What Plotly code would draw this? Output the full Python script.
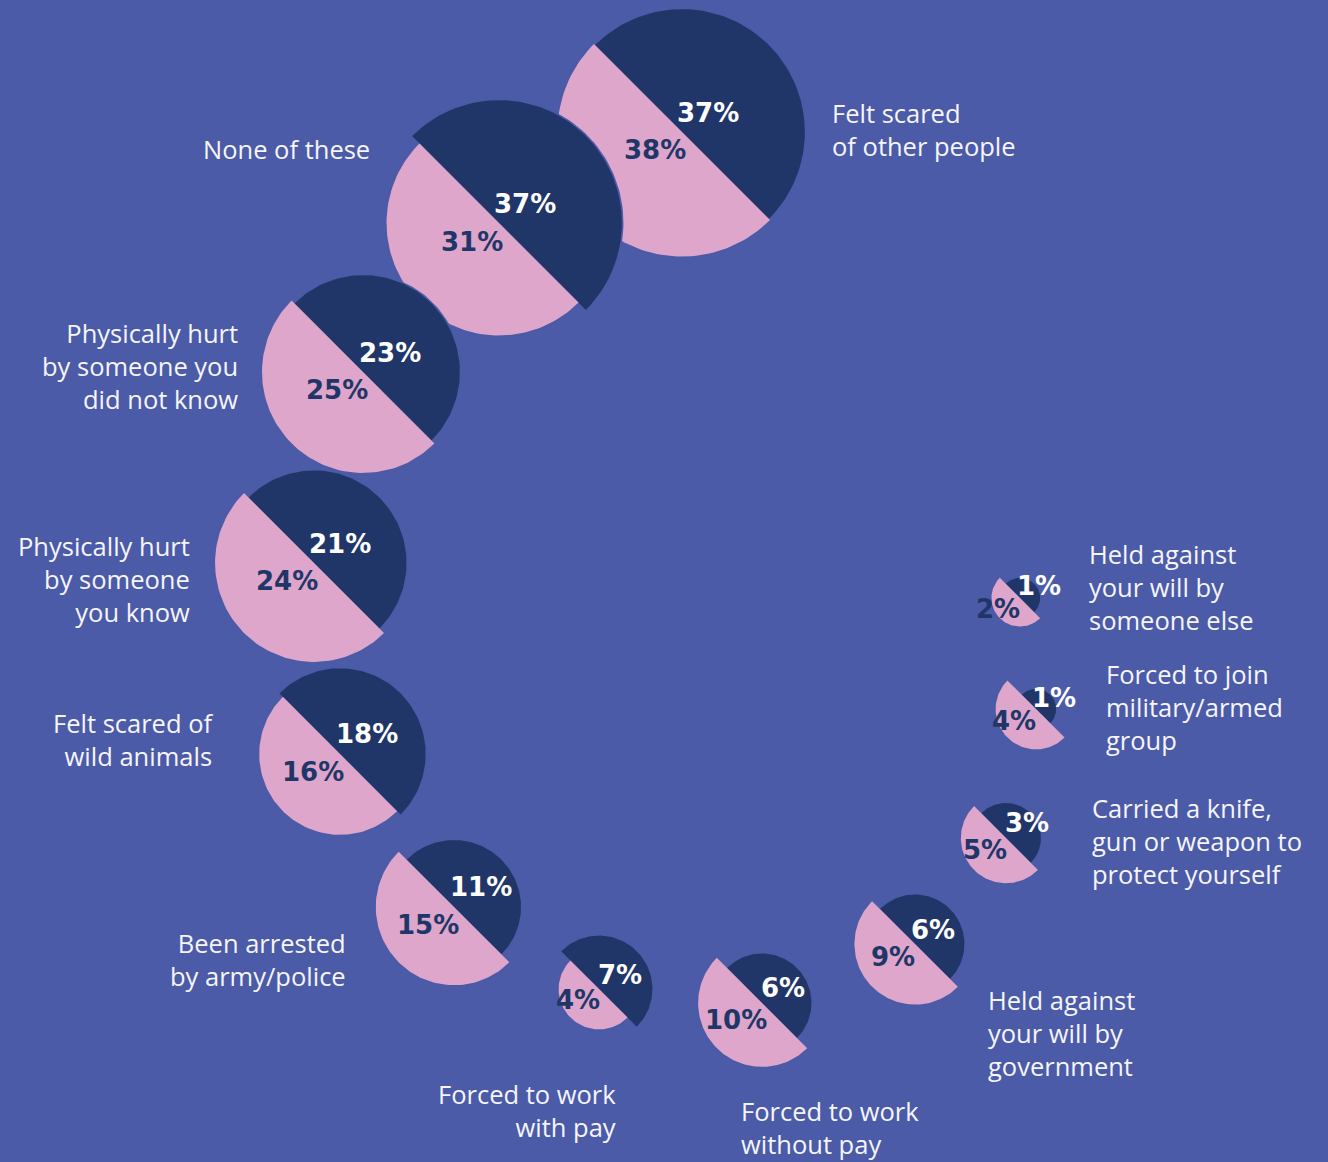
import numpy as np
import plotly.graph_objects as go

# ---- data -------------------------------------------------------------
categories = [
    "Felt scared<br>of other people",
    "None of these",
    "Physically hurt<br>by someone you<br>did not know",
    "Physically hurt<br>by someone<br>you know",
    "Felt scared of<br>wild animals",
    "Been arrested<br>by army/police",
    "Forced to work<br>with pay",
    "Forced to work<br>without pay",
    "Held against<br>your will by<br>government",
    "Carried a knife,<br>gun or weapon to<br>protect yourself",
    "Forced to join<br>military/armed<br>group",
    "Held against<br>your will by<br>someone else",
]
group_a_pct = [37, 37, 23, 21, 18, 11, 7, 6, 6, 3, 1, 1]    # dark half
group_b_pct = [38, 31, 25, 24, 16, 15, 4, 10, 9, 5, 4, 2]   # pink half

# ---- layout (pixel space, y grows downward) ---------------------------
centers = [(682, 132), (499, 223), (363, 372), (314, 563), (340, 754),
           (454, 907), (599, 989), (762, 1003), (915, 944), (1006, 838),
           (1036, 709), (1020, 598)]
a_label_xy = [(708, 113), (525, 204), (390, 353), (340, 544), (367, 734),
              (481, 887), (620, 975), (783, 988), (933, 930), (1027, 823),
              (1054, 698), (1039, 586)]
b_label_xy = [(655, 150), (472, 242), (337, 390), (287, 581), (313, 772),
              (428, 925), (578, 1000), (736, 1020), (893, 957), (985, 850),
              (1014, 721), (998, 609)]
# (x, y of block centre, anchor) for each category caption
cat_label_pos = [(830, 129, "left"), (372, 149, "right"), (240, 366, "right"),
                 (192, 579, "right"), (215, 739, "right"), (348, 959, "right"),
                 (618, 1110, "right"), (739, 1127, "left"), (986, 1033, "left"),
                 (1090, 841, "left"), (1104, 707, "left"), (1087, 587, "left")]

BG = "#4B5BA7"
NAVY = "#213668"
PINK = "#DDA6CA"
TEXT = "#F5F5FA"
SCALE = 20.2       # radius = SCALE * sqrt(percent)  (area proportional)
HALO = 1.6


def half_disc(cx, cy, r, start_deg, end_deg, n=90):
    t = np.radians(np.linspace(start_deg, end_deg, n))
    xs = np.concatenate([cx + r * np.cos(t), [cx + r * np.cos(t[0])]])
    ys = np.concatenate([cy + r * np.sin(t), [cy + r * np.sin(t[0])]])
    return xs, ys


fig = go.Figure()

for i, (cx, cy) in enumerate(centers):
    ra = SCALE * np.sqrt(group_a_pct[i])
    rb = SCALE * np.sqrt(group_b_pct[i])
    halves = [(ra, -135, 45, NAVY), (rb, 45, 225, PINK)]
    # thin background-coloured rim so overlapping bubbles stay separated
    for r, s, e, _ in halves:
        xs, ys = half_disc(cx, cy, r + HALO, s, e)
        fig.add_trace(go.Scatter(x=xs, y=ys, mode="lines", fill="toself",
                                 fillcolor=BG, line=dict(width=0),
                                 hoverinfo="skip", showlegend=False))
    for r, s, e, col in halves:
        xs, ys = half_disc(cx, cy, r, s, e)
        fig.add_trace(go.Scatter(x=xs, y=ys, mode="lines", fill="toself",
                                 fillcolor=col, line=dict(width=0),
                                 hoverinfo="skip", showlegend=False))

annotations = []
pct_font = dict(family="DejaVu Sans", size=26, weight="bold")
for i in range(len(categories)):
    ax, ay = a_label_xy[i]
    bx, by = b_label_xy[i]
    annotations.append(dict(x=ax, y=ay, text=f"{group_a_pct[i]}%", showarrow=False,
                            xanchor="center", yanchor="middle",
                            font=dict(pct_font, color="white")))
    annotations.append(dict(x=bx, y=by, text=f"{group_b_pct[i]}%", showarrow=False,
                            xanchor="center", yanchor="middle",
                            font=dict(pct_font, color=NAVY)))
    lx, ly, anc = cat_label_pos[i]
    annotations.append(dict(x=lx, y=ly, text=categories[i], showarrow=False,
                            xanchor=anc, yanchor="middle", align=anc,
                            font=dict(family="Open Sans", size=25.5, color=TEXT)))

fig.update_layout(
    width=1328, height=1162,
    margin=dict(l=0, r=0, t=0, b=0),
    paper_bgcolor=BG, plot_bgcolor=BG,
    xaxis=dict(range=[0, 1328], visible=False, fixedrange=True),
    yaxis=dict(range=[1162, 0], visible=False, fixedrange=True),
    annotations=annotations,
    showlegend=False,
)

fig.write_html("out.html")
